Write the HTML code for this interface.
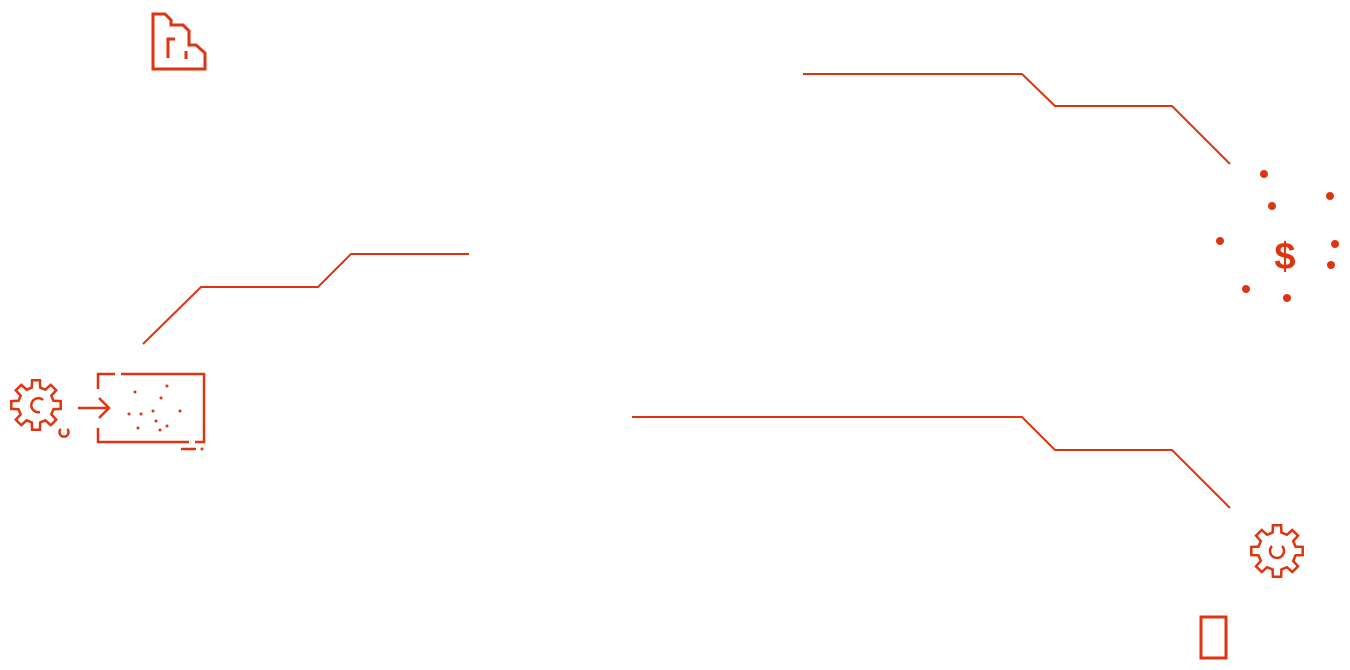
<!DOCTYPE html>
<html><head><meta charset="utf-8"><style>html,body{margin:0;padding:0;background:#fff;width:1350px;height:670px;overflow:hidden}</style></head>
<body>
<svg id="s" width="1350" height="670" viewBox="0 0 1350 670" xmlns="http://www.w3.org/2000/svg">
<g fill="none" stroke="#e0330f" stroke-width="2">
<polyline points="803,74 1022,74 1055,106 1172,106 1230,164"/>
<polyline points="469,254 351,254 318,287 201,287 143,344"/>
<polyline points="632,417 1022,417 1055,450 1172,450 1230,508"/>
<g stroke-width="3">
<path d="M153,69 V14 H165 L171,20 V25 H183 L189,31 V45 H196 L205,53 V69 Z"/>
<path d="M168,58 V39 H175"/>
<path d="M186,51 V59"/>
</g>
<g stroke-width="2.5">
<path d="M98,389 V374 H115 M121,374 H204 V442 H195 M189,442 H98 V428"/>
<path d="M181,449 H196"/>
<path d="M78,408 H109 M99,398 L109,408 L99,418"/>
</g>
<rect x="1201" y="617" width="25" height="41" stroke-width="3"/>
<path id="g1" stroke-width="2.5"/>
<path id="g2" stroke-width="2.5"/>
<path d="M43,400 A7,7 0 1 0 40,412" stroke-width="2.5"/>
<path d="M60.8,429 A4.5,4.5 0 1 0 67.2,429" stroke-width="2.5"/>
<path d="M1272,546 A7,7 0 1 0 1282,546" stroke-width="2.5"/>
</g>
<g fill="#e0330f">
<circle cx="202" cy="449" r="1.5"/>
<circle cx="135" cy="392" r="1.5"/><circle cx="167" cy="386" r="1.5"/><circle cx="161" cy="398" r="1.5"/>
<circle cx="129" cy="414" r="1.5"/><circle cx="141" cy="414" r="1.5"/><circle cx="153" cy="411" r="1.5"/>
<circle cx="180" cy="411" r="1.5"/><circle cx="156" cy="421" r="1.5"/><circle cx="138" cy="428" r="1.5"/>
<circle cx="160" cy="430" r="1.5"/><circle cx="167" cy="426" r="1.5"/>
<circle cx="1264" cy="174" r="4"/><circle cx="1330" cy="196" r="4"/><circle cx="1272" cy="206" r="4"/>
<circle cx="1220" cy="241" r="4"/><circle cx="1335" cy="244" r="4"/><circle cx="1331" cy="265" r="4"/>
<circle cx="1246" cy="289" r="4"/><circle cx="1287" cy="298" r="4"/>
<text x="1285" y="269" font-family="Liberation Sans, sans-serif" font-size="38" font-weight="bold" text-anchor="middle">$</text>
</g>
</svg>
<script>
function gear(cx,cy,R,r,n){var p=[];for(var i=0;i<n;i++){var a=i*2*Math.PI/n,w=Math.PI/n;
var pts=[[r,a-w*0.6],[R,a-w*0.4],[R,a+w*0.4],[r,a+w*0.6]];
pts.forEach(function(q){p.push((cx+q[0]*Math.cos(q[1])).toFixed(1)+','+(cy+q[0]*Math.sin(q[1])).toFixed(1));});}
return 'M'+p.join(' L')+' Z';}
document.getElementById('g1').setAttribute('d',gear(36,405,25,18,8));
document.getElementById('g2').setAttribute('d',gear(1277,551,26,19,8));
</script>
</body></html>
